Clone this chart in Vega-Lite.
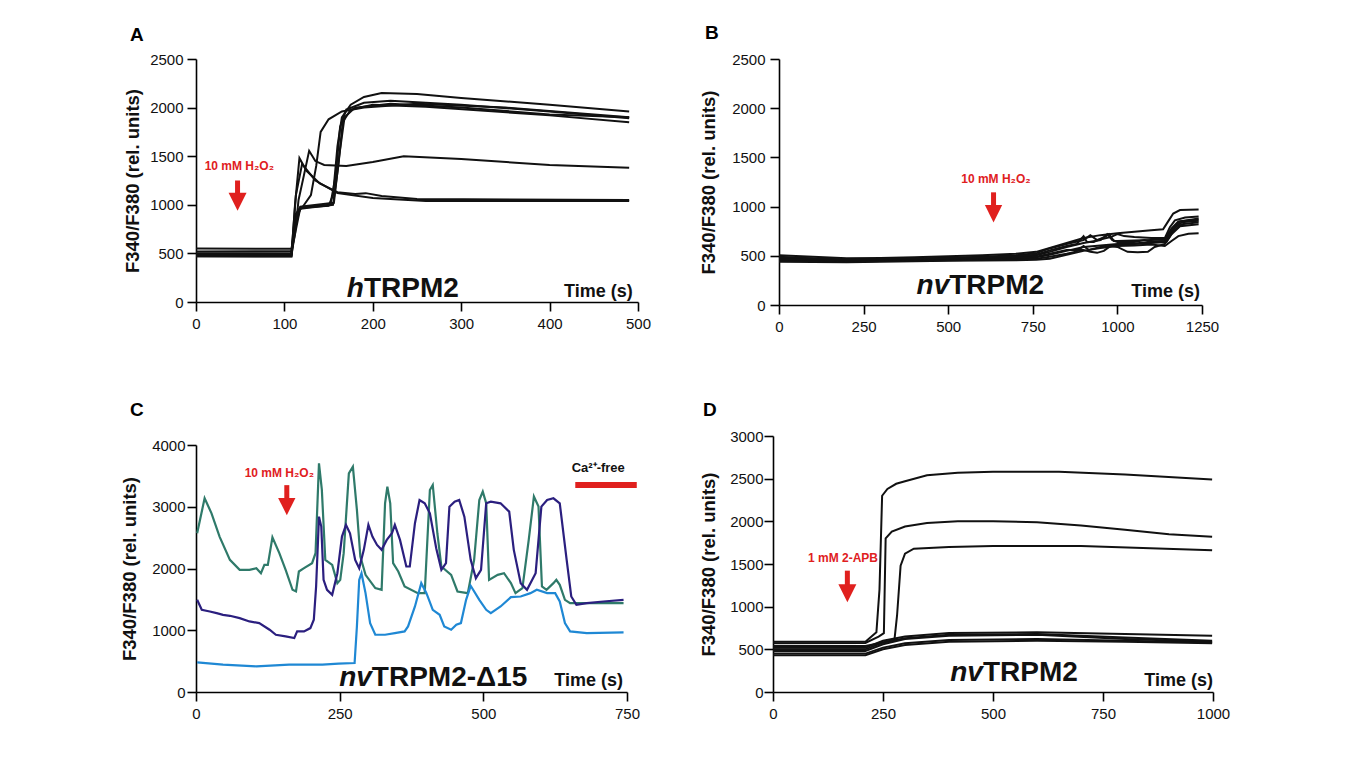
{
"$schema": "https://vega.github.io/schema/vega-lite/v6.json",
"background": "white",
"padding": {"left": 120, "top": 24, "right": 5, "bottom": 5},
"config": {
  "font": "Liberation Sans",
  "view": {"stroke": null},
  "axis": {"grid": false, "domainColor": "#000", "tickColor": "#000", "domainWidth": 1.6, "tickWidth": 1.6, "tickSize": 9, "labelPadding": 5, "labelFontSize": 15, "labelColor": "#111", "labelFont": "Liberation Sans", "labelFlush": false, "format": "d", "titleFont": "Liberation Sans", "titleFontSize": 18.5, "titleFontWeight": "bold", "titleColor": "#111", "titlePadding": 8},
  "title": {"fontSize": 19, "fontWeight": "bold", "color": "#000", "anchor": "start", "frame": "group"}
},
"datasets": {
  "A": [
    {"s":"a1","t":0,"v":520},{"s":"a1","t":108,"v":525},{"s":"a1","t":112,"v":700},{"s":"a1","t":118,"v":970},{"s":"a1","t":150,"v":990},{"s":"a1","t":155,"v":1100},{"s":"a1","t":160,"v":1600},{"s":"a1","t":165,"v":1900},{"s":"a1","t":175,"v":2030},{"s":"a1","t":190,"v":2110},{"s":"a1","t":210,"v":2150},{"s":"a1","t":250,"v":2140},{"s":"a1","t":300,"v":2100},{"s":"a1","t":400,"v":2030},{"s":"a1","t":490,"v":1960},
    {"s":"a2","t":0,"v":550},{"s":"a2","t":108,"v":548},{"s":"a2","t":113,"v":800},{"s":"a2","t":118,"v":970},{"s":"a2","t":152,"v":1000},{"s":"a2","t":158,"v":1300},{"s":"a2","t":163,"v":1800},{"s":"a2","t":170,"v":1980},{"s":"a2","t":190,"v":2050},{"s":"a2","t":220,"v":2070},{"s":"a2","t":300,"v":2030},{"s":"a2","t":400,"v":1960},{"s":"a2","t":490,"v":1890},
    {"s":"a3","t":0,"v":470},{"s":"a3","t":108,"v":468},{"s":"a3","t":113,"v":850},{"s":"a3","t":118,"v":960},{"s":"a3","t":155,"v":1000},{"s":"a3","t":161,"v":1400},{"s":"a3","t":166,"v":1850},{"s":"a3","t":175,"v":1980},{"s":"a3","t":200,"v":2030},{"s":"a3","t":260,"v":2010},{"s":"a3","t":400,"v":1920},{"s":"a3","t":490,"v":1850},
    {"s":"a4","t":0,"v":500},{"s":"a4","t":108,"v":500},{"s":"a4","t":113,"v":900},{"s":"a4","t":118,"v":980},{"s":"a4","t":156,"v":1020},{"s":"a4","t":162,"v":1500},{"s":"a4","t":168,"v":1900},{"s":"a4","t":180,"v":2000},{"s":"a4","t":220,"v":2040},{"s":"a4","t":300,"v":2000},{"s":"a4","t":400,"v":1930},{"s":"a4","t":490,"v":1900},
    {"s":"a5","t":0,"v":480},{"s":"a5","t":108,"v":480},{"s":"a5","t":112,"v":900},{"s":"a5","t":120,"v":970},{"s":"a5","t":130,"v":1100},{"s":"a5","t":136,"v":1400},{"s":"a5","t":141,"v":1750},{"s":"a5","t":150,"v":1880},{"s":"a5","t":165,"v":1960},{"s":"a5","t":190,"v":2000},{"s":"a5","t":250,"v":2040},{"s":"a5","t":350,"v":2000},{"s":"a5","t":490,"v":1900},
    {"s":"a6","t":0,"v":490},{"s":"a6","t":108,"v":490},{"s":"a6","t":112,"v":700},{"s":"a6","t":116,"v":1050},{"s":"a6","t":122,"v":1300},{"s":"a6","t":128,"v":1555},{"s":"a6","t":135,"v":1450},{"s":"a6","t":145,"v":1410},{"s":"a6","t":170,"v":1400},{"s":"a6","t":200,"v":1440},{"s":"a6","t":235,"v":1500},{"s":"a6","t":300,"v":1470},{"s":"a6","t":400,"v":1410},{"s":"a6","t":490,"v":1380},
    {"s":"a7","t":0,"v":470},{"s":"a7","t":108,"v":470},{"s":"a7","t":112,"v":1000},{"s":"a7","t":117,"v":1480},{"s":"a7","t":125,"v":1350},{"s":"a7","t":140,"v":1220},{"s":"a7","t":160,"v":1130},{"s":"a7","t":180,"v":1110},{"s":"a7","t":192,"v":1120},{"s":"a7","t":210,"v":1090},{"s":"a7","t":250,"v":1060},{"s":"a7","t":490,"v":1050},
    {"s":"a8","t":0,"v":500},{"s":"a8","t":108,"v":500},{"s":"a8","t":113,"v":1100},{"s":"a8","t":120,"v":1420},{"s":"a8","t":135,"v":1250},{"s":"a8","t":160,"v":1120},{"s":"a8","t":200,"v":1070},{"s":"a8","t":260,"v":1040},{"s":"a8","t":490,"v":1040}
  ],
  "B": [
    {"s":"b1","t":0,"v":505},{"s":"b1","t":100,"v":490},{"s":"b1","t":200,"v":475},{"s":"b1","t":300,"v":478},{"s":"b1","t":400,"v":485},{"s":"b1","t":500,"v":495},{"s":"b1","t":600,"v":505},{"s":"b1","t":700,"v":520},{"s":"b1","t":760,"v":540},{"s":"b1","t":800,"v":580},{"s":"b1","t":850,"v":630},{"s":"b1","t":900,"v":680},{"s":"b1","t":950,"v":710},{"s":"b1","t":1000,"v":730},{"s":"b1","t":1050,"v":745},{"s":"b1","t":1100,"v":760},{"s":"b1","t":1135,"v":770},{"s":"b1","t":1150,"v":850},{"s":"b1","t":1165,"v":930},{"s":"b1","t":1185,"v":965},{"s":"b1","t":1240,"v":970},
    {"s":"b2","t":0,"v":490},{"s":"b2","t":100,"v":470},{"s":"b2","t":200,"v":460},{"s":"b2","t":300,"v":465},{"s":"b2","t":400,"v":470},{"s":"b2","t":500,"v":480},{"s":"b2","t":600,"v":490},{"s":"b2","t":700,"v":505},{"s":"b2","t":760,"v":525},{"s":"b2","t":800,"v":575},{"s":"b2","t":850,"v":620},{"s":"b2","t":900,"v":660},{"s":"b2","t":920,"v":710},{"s":"b2","t":940,"v":660},{"s":"b2","t":980,"v":690},{"s":"b2","t":1000,"v":720},{"s":"b2","t":1020,"v":700},{"s":"b2","t":1050,"v":690},{"s":"b2","t":1100,"v":680},{"s":"b2","t":1140,"v":680},{"s":"b2","t":1155,"v":790},{"s":"b2","t":1170,"v":860},{"s":"b2","t":1200,"v":890},{"s":"b2","t":1240,"v":900},
    {"s":"b3","t":0,"v":475},{"s":"b3","t":100,"v":460},{"s":"b3","t":200,"v":452},{"s":"b3","t":300,"v":458},{"s":"b3","t":400,"v":462},{"s":"b3","t":500,"v":470},{"s":"b3","t":600,"v":478},{"s":"b3","t":700,"v":490},{"s":"b3","t":760,"v":505},{"s":"b3","t":800,"v":540},{"s":"b3","t":850,"v":590},{"s":"b3","t":900,"v":630},{"s":"b3","t":950,"v":660},{"s":"b3","t":975,"v":720},{"s":"b3","t":990,"v":650},{"s":"b3","t":1000,"v":650},{"s":"b3","t":1050,"v":655},{"s":"b3","t":1100,"v":660},{"s":"b3","t":1140,"v":665},{"s":"b3","t":1160,"v":780},{"s":"b3","t":1180,"v":850},{"s":"b3","t":1240,"v":870},
    {"s":"b4","t":0,"v":465},{"s":"b4","t":100,"v":455},{"s":"b4","t":200,"v":447},{"s":"b4","t":300,"v":452},{"s":"b4","t":400,"v":455},{"s":"b4","t":500,"v":462},{"s":"b4","t":600,"v":468},{"s":"b4","t":700,"v":475},{"s":"b4","t":760,"v":485},{"s":"b4","t":800,"v":510},{"s":"b4","t":850,"v":550},{"s":"b4","t":900,"v":590},{"s":"b4","t":950,"v":605},{"s":"b4","t":1000,"v":620},{"s":"b4","t":1050,"v":625},{"s":"b4","t":1100,"v":640},{"s":"b4","t":1145,"v":650},{"s":"b4","t":1165,"v":770},{"s":"b4","t":1190,"v":840},{"s":"b4","t":1240,"v":855},
    {"s":"b5","t":0,"v":455},{"s":"b5","t":100,"v":445},{"s":"b5","t":200,"v":440},{"s":"b5","t":300,"v":448},{"s":"b5","t":400,"v":450},{"s":"b5","t":500,"v":455},{"s":"b5","t":600,"v":460},{"s":"b5","t":700,"v":465},{"s":"b5","t":760,"v":470},{"s":"b5","t":800,"v":490},{"s":"b5","t":850,"v":520},{"s":"b5","t":880,"v":545},{"s":"b5","t":900,"v":600},{"s":"b5","t":915,"v":560},{"s":"b5","t":950,"v":590},{"s":"b5","t":1000,"v":610},{"s":"b5","t":1050,"v":620},{"s":"b5","t":1100,"v":630},{"s":"b5","t":1145,"v":640},{"s":"b5","t":1165,"v":750},{"s":"b5","t":1190,"v":820},{"s":"b5","t":1240,"v":840},
    {"s":"b6","t":0,"v":440},{"s":"b6","t":100,"v":438},{"s":"b6","t":200,"v":435},{"s":"b6","t":300,"v":440},{"s":"b6","t":400,"v":445},{"s":"b6","t":500,"v":450},{"s":"b6","t":600,"v":452},{"s":"b6","t":700,"v":455},{"s":"b6","t":760,"v":460},{"s":"b6","t":800,"v":470},{"s":"b6","t":850,"v":510},{"s":"b6","t":900,"v":550},{"s":"b6","t":950,"v":580},{"s":"b6","t":1000,"v":600},{"s":"b6","t":1050,"v":605},{"s":"b6","t":1100,"v":615},{"s":"b6","t":1140,"v":600},{"s":"b6","t":1160,"v":650},{"s":"b6","t":1180,"v":700},{"s":"b6","t":1210,"v":725},{"s":"b6","t":1240,"v":730},
    {"s":"b7","t":0,"v":470},{"s":"b7","t":100,"v":460},{"s":"b7","t":200,"v":455},{"s":"b7","t":300,"v":460},{"s":"b7","t":400,"v":465},{"s":"b7","t":500,"v":470},{"s":"b7","t":600,"v":478},{"s":"b7","t":700,"v":482},{"s":"b7","t":760,"v":490},{"s":"b7","t":800,"v":520},{"s":"b7","t":850,"v":560},{"s":"b7","t":900,"v":560},{"s":"b7","t":920,"v":540},{"s":"b7","t":940,"v":530},{"s":"b7","t":960,"v":550},{"s":"b7","t":980,"v":600},{"s":"b7","t":1000,"v":590},{"s":"b7","t":1030,"v":540},{"s":"b7","t":1060,"v":535},{"s":"b7","t":1090,"v":540},{"s":"b7","t":1110,"v":590},{"s":"b7","t":1140,"v":620},{"s":"b7","t":1160,"v":720},{"s":"b7","t":1185,"v":800},{"s":"b7","t":1240,"v":820},
    {"s":"b8","t":0,"v":485},{"s":"b8","t":100,"v":475},{"s":"b8","t":200,"v":462},{"s":"b8","t":300,"v":468},{"s":"b8","t":400,"v":472},{"s":"b8","t":500,"v":478},{"s":"b8","t":600,"v":485},{"s":"b8","t":700,"v":495},{"s":"b8","t":760,"v":510},{"s":"b8","t":800,"v":555},{"s":"b8","t":850,"v":600},{"s":"b8","t":880,"v":620},{"s":"b8","t":900,"v":700},{"s":"b8","t":910,"v":640},{"s":"b8","t":930,"v":640},{"s":"b8","t":960,"v":690},{"s":"b8","t":970,"v":720},{"s":"b8","t":985,"v":660},{"s":"b8","t":1000,"v":640},{"s":"b8","t":1050,"v":640},{"s":"b8","t":1080,"v":660},{"s":"b8","t":1100,"v":640},{"s":"b8","t":1140,"v":650},{"s":"b8","t":1160,"v":760},{"s":"b8","t":1185,"v":850},{"s":"b8","t":1240,"v":880}
  ],
  "C": [
    {"s":"teal","t":2,"v":2571},{"s":"teal","t":15,"v":3137},{"s":"teal","t":27,"v":2894},{"s":"teal","t":41,"v":2517},{"s":"teal","t":59,"v":2140},{"s":"teal","t":76,"v":1978},{"s":"teal","t":93,"v":1978},{"s":"teal","t":105,"v":2005},{"s":"teal","t":113,"v":1924},{"s":"teal","t":119,"v":2059},{"s":"teal","t":125,"v":2059},{"s":"teal","t":133,"v":2506},{"s":"teal","t":145,"v":2248},{"s":"teal","t":156,"v":1978},{"s":"teal","t":168,"v":1655},{"s":"teal","t":174,"v":1628},{"s":"teal","t":179,"v":1951},{"s":"teal","t":188,"v":2005},{"s":"teal","t":202,"v":2086},{"s":"teal","t":208,"v":2248},{"s":"teal","t":214,"v":3703},{"s":"teal","t":219,"v":3272},{"s":"teal","t":225,"v":2140},{"s":"teal","t":237,"v":2059},{"s":"teal","t":246,"v":1763},{"s":"teal","t":251,"v":1816},{"s":"teal","t":257,"v":2248},{"s":"teal","t":266,"v":3541},{"s":"teal","t":273,"v":3649},{"s":"teal","t":280,"v":2948},{"s":"teal","t":286,"v":2194},{"s":"teal","t":295,"v":1897},{"s":"teal","t":312,"v":1682},{"s":"teal","t":323,"v":1655},{"s":"teal","t":329,"v":3056},{"s":"teal","t":333,"v":3326},{"s":"teal","t":338,"v":3056},{"s":"teal","t":343,"v":2086},{"s":"teal","t":352,"v":1951},{"s":"teal","t":363,"v":1709},{"s":"teal","t":386,"v":1601},{"s":"teal","t":398,"v":1601},{"s":"teal","t":407,"v":3272},{"s":"teal","t":412,"v":3353},{"s":"teal","t":420,"v":2571},{"s":"teal","t":427,"v":2032},{"s":"teal","t":444,"v":1897},{"s":"teal","t":455,"v":1628},{"s":"teal","t":473,"v":1601},{"s":"teal","t":484,"v":2140},{"s":"teal","t":493,"v":3110},{"s":"teal","t":499,"v":3245},{"s":"teal","t":505,"v":3056},{"s":"teal","t":510,"v":1816},{"s":"teal","t":525,"v":1897},{"s":"teal","t":536,"v":1924},{"s":"teal","t":548,"v":1763},{"s":"teal","t":556,"v":1601},{"s":"teal","t":568,"v":1682},{"s":"teal","t":579,"v":2463},{"s":"teal","t":588,"v":3164},{"s":"teal","t":596,"v":3002},{"s":"teal","t":602,"v":1709},{"s":"teal","t":610,"v":1655},{"s":"teal","t":622,"v":1763},{"s":"teal","t":627,"v":1816},{"s":"teal","t":633,"v":1736},{"s":"teal","t":642,"v":1493},{"s":"teal","t":651,"v":1439},{"s":"teal","t":680,"v":1439},{"s":"teal","t":744,"v":1439},
    {"s":"navy","t":2,"v":1493},{"s":"navy","t":10,"v":1331},{"s":"navy","t":24,"v":1304},{"s":"navy","t":36,"v":1277},{"s":"navy","t":47,"v":1250},{"s":"navy","t":59,"v":1234},{"s":"navy","t":76,"v":1197},{"s":"navy","t":93,"v":1143},{"s":"navy","t":110,"v":1116},{"s":"navy","t":128,"v":1008},{"s":"navy","t":139,"v":927},{"s":"navy","t":156,"v":900},{"s":"navy","t":171,"v":873},{"s":"navy","t":176,"v":981},{"s":"navy","t":188,"v":981},{"s":"navy","t":199,"v":1035},{"s":"navy","t":205,"v":1170},{"s":"navy","t":209,"v":1709},{"s":"navy","t":214,"v":2840},{"s":"navy","t":218,"v":2679},{"s":"navy","t":222,"v":1816},{"s":"navy","t":228,"v":1655},{"s":"navy","t":237,"v":1574},{"s":"navy","t":246,"v":1924},{"s":"navy","t":254,"v":2517},{"s":"navy","t":261,"v":2706},{"s":"navy","t":268,"v":2571},{"s":"navy","t":277,"v":2140},{"s":"navy","t":284,"v":2005},{"s":"navy","t":292,"v":2302},{"s":"navy","t":300,"v":2706},{"s":"navy","t":307,"v":2517},{"s":"navy","t":315,"v":2382},{"s":"navy","t":323,"v":2302},{"s":"navy","t":332,"v":2463},{"s":"navy","t":341,"v":2571},{"s":"navy","t":346,"v":2706},{"s":"navy","t":355,"v":2463},{"s":"navy","t":366,"v":2032},{"s":"navy","t":372,"v":2032},{"s":"navy","t":381,"v":2733},{"s":"navy","t":389,"v":3110},{"s":"navy","t":398,"v":3056},{"s":"navy","t":407,"v":2894},{"s":"navy","t":418,"v":2329},{"s":"navy","t":427,"v":1978},{"s":"navy","t":435,"v":2086},{"s":"navy","t":441,"v":3002},{"s":"navy","t":450,"v":3083},{"s":"navy","t":458,"v":3110},{"s":"navy","t":467,"v":2840},{"s":"navy","t":478,"v":2140},{"s":"navy","t":487,"v":1843},{"s":"navy","t":496,"v":1978},{"s":"navy","t":505,"v":3056},{"s":"navy","t":513,"v":3083},{"s":"navy","t":530,"v":3056},{"s":"navy","t":545,"v":2921},{"s":"navy","t":553,"v":2302},{"s":"navy","t":565,"v":1763},{"s":"navy","t":576,"v":1655},{"s":"navy","t":591,"v":1924},{"s":"navy","t":601,"v":3002},{"s":"navy","t":611,"v":3110},{"s":"navy","t":622,"v":3137},{"s":"navy","t":633,"v":3056},{"s":"navy","t":645,"v":2140},{"s":"navy","t":653,"v":1547},{"s":"navy","t":662,"v":1412},{"s":"navy","t":680,"v":1439},{"s":"navy","t":709,"v":1466},{"s":"navy","t":744,"v":1493},
    {"s":"blue","t":2,"v":480},{"s":"blue","t":47,"v":442},{"s":"blue","t":105,"v":415},{"s":"blue","t":162,"v":442},{"s":"blue","t":220,"v":442},{"s":"blue","t":248,"v":458},{"s":"blue","t":276,"v":469},{"s":"blue","t":280,"v":1062},{"s":"blue","t":284,"v":1816},{"s":"blue","t":288,"v":1924},{"s":"blue","t":295,"v":1601},{"s":"blue","t":303,"v":1116},{"s":"blue","t":312,"v":927},{"s":"blue","t":329,"v":927},{"s":"blue","t":346,"v":954},{"s":"blue","t":363,"v":981},{"s":"blue","t":369,"v":1062},{"s":"blue","t":381,"v":1385},{"s":"blue","t":392,"v":1763},{"s":"blue","t":401,"v":1601},{"s":"blue","t":412,"v":1331},{"s":"blue","t":424,"v":1250},{"s":"blue","t":432,"v":1062},{"s":"blue","t":444,"v":1008},{"s":"blue","t":453,"v":1089},{"s":"blue","t":461,"v":1116},{"s":"blue","t":470,"v":1493},{"s":"blue","t":478,"v":1720},{"s":"blue","t":493,"v":1493},{"s":"blue","t":505,"v":1331},{"s":"blue","t":513,"v":1277},{"s":"blue","t":530,"v":1385},{"s":"blue","t":548,"v":1536},{"s":"blue","t":565,"v":1547},{"s":"blue","t":582,"v":1601},{"s":"blue","t":593,"v":1655},{"s":"blue","t":611,"v":1601},{"s":"blue","t":625,"v":1601},{"s":"blue","t":633,"v":1466},{"s":"blue","t":642,"v":1116},{"s":"blue","t":651,"v":981},{"s":"blue","t":680,"v":954},{"s":"blue","t":744,"v":965}
  ],
  "D": [
    {"s":"d1","t":0,"v":590},{"s":"d1","t":210,"v":588},{"s":"d1","t":235,"v":700},{"s":"d1","t":242,"v":1200},{"s":"d1","t":248,"v":2300},{"s":"d1","t":260,"v":2380},{"s":"d1","t":280,"v":2440},{"s":"d1","t":300,"v":2470},{"s":"d1","t":350,"v":2540},{"s":"d1","t":420,"v":2570},{"s":"d1","t":500,"v":2580},{"s":"d1","t":650,"v":2580},{"s":"d1","t":800,"v":2550},{"s":"d1","t":998,"v":2490},
    {"s":"d2","t":0,"v":570},{"s":"d2","t":210,"v":575},{"s":"d2","t":240,"v":650},{"s":"d2","t":252,"v":690},{"s":"d2","t":256,"v":1800},{"s":"d2","t":270,"v":1880},{"s":"d2","t":300,"v":1940},{"s":"d2","t":350,"v":1980},{"s":"d2","t":420,"v":2000},{"s":"d2","t":500,"v":2000},{"s":"d2","t":600,"v":1990},{"s":"d2","t":700,"v":1950},{"s":"d2","t":800,"v":1900},{"s":"d2","t":900,"v":1850},{"s":"d2","t":998,"v":1820},
    {"s":"d3","t":0,"v":540},{"s":"d3","t":210,"v":540},{"s":"d3","t":250,"v":580},{"s":"d3","t":276,"v":610},{"s":"d3","t":282,"v":900},{"s":"d3","t":290,"v":1480},{"s":"d3","t":300,"v":1620},{"s":"d3","t":320,"v":1680},{"s":"d3","t":400,"v":1700},{"s":"d3","t":500,"v":1710},{"s":"d3","t":700,"v":1710},{"s":"d3","t":998,"v":1660},
    {"s":"d4","t":0,"v":520},{"s":"d4","t":210,"v":520},{"s":"d4","t":250,"v":600},{"s":"d4","t":300,"v":650},{"s":"d4","t":400,"v":690},{"s":"d4","t":600,"v":700},{"s":"d4","t":800,"v":680},{"s":"d4","t":998,"v":660},
    {"s":"d5","t":0,"v":500},{"s":"d5","t":210,"v":500},{"s":"d5","t":250,"v":580},{"s":"d5","t":300,"v":630},{"s":"d5","t":400,"v":670},{"s":"d5","t":600,"v":680},{"s":"d5","t":800,"v":640},{"s":"d5","t":998,"v":600},
    {"s":"d6","t":0,"v":480},{"s":"d6","t":210,"v":480},{"s":"d6","t":250,"v":560},{"s":"d6","t":300,"v":620},{"s":"d6","t":400,"v":660},{"s":"d6","t":600,"v":670},{"s":"d6","t":800,"v":620},{"s":"d6","t":998,"v":590},
    {"s":"d7","t":0,"v":450},{"s":"d7","t":210,"v":450},{"s":"d7","t":250,"v":520},{"s":"d7","t":300,"v":570},{"s":"d7","t":400,"v":610},{"s":"d7","t":600,"v":620},{"s":"d7","t":800,"v":600},{"s":"d7","t":998,"v":580},
    {"s":"d8","t":0,"v":430},{"s":"d8","t":210,"v":430},{"s":"d8","t":250,"v":500},{"s":"d8","t":300,"v":550},{"s":"d8","t":400,"v":590},{"s":"d8","t":600,"v":600},{"s":"d8","t":800,"v":590},{"s":"d8","t":998,"v":570}
  ]
},
"columns": 2,
"align": "none",
"bounds": "full",
"spacing": {"row": 67, "column": 48},
"concat": [
  {
   "width": 442, "height": 243,
   "title": {"text": "A", "dx": -66, "offset": 7.5},
   "encoding": {
     "x": {"field": "t", "type": "quantitative", "scale": {"domain": [0, 500], "nice": false, "zero": false}, "axis": {"values": [0, 100, 200, 300, 400, 500], "title": null}},
     "y": {"field": "v", "type": "quantitative", "scale": {"domain": [0, 2500], "nice": false}, "axis": {"values": [0, 500, 1000, 1500, 2000, 2500], "title": "F340/F380 (rel. units)", "labelPadding": 4, "titlePadding": 7}}
   },
   "layer": [
     {"data": {"name": "A"}, "mark": {"type": "line", "color": "#111", "strokeWidth": 2}, "encoding": {"detail": {"field": "s"}}},
     {"data": {"values": [{"t": 47, "v": 1250, "v2": 1031}]}, "mark": {"type": "rule", "color": "#e0201e", "strokeWidth": 5}, "encoding": {"y2": {"field": "v2"}}},
     {"data": {"values": [{"t": 47, "v": 1031}]}, "mark": {"type": "point", "shape": "M-1,-1L1,-1L0,1Z", "size": 324, "filled": true, "color": "#e0201e", "opacity": 1, "strokeWidth": 0}},
     {"data": {"values": [{"t": 49, "v": 1354, "label": "10 mM H₂O₂"}]}, "mark": {"type": "text", "color": "#e0201e", "fontSize": 12, "fontWeight": "bold", "align": "center", "baseline": "alphabetic"}, "encoding": {"text": {"field": "label"}}},
     {"data": {"values": [{"t": 190, "v": 52, "label": "h"}]}, "mark": {"type": "text", "color": "#111", "fontSize": 28, "fontWeight": "bold", "fontStyle": "italic", "align": "right", "baseline": "alphabetic"}, "encoding": {"text": {"field": "label"}}},
     {"data": {"values": [{"t": 190, "v": 52, "label": "TRPM2"}]}, "mark": {"type": "text", "color": "#111", "fontSize": 28, "fontWeight": "bold", "align": "left", "baseline": "alphabetic"}, "encoding": {"text": {"field": "label"}}},
     {"data": {"values": [{"t": 494, "v": 52, "label": "Time (s)"}]}, "mark": {"type": "text", "color": "#111", "fontSize": 18, "fontWeight": "bold", "align": "right", "baseline": "alphabetic"}, "encoding": {"text": {"field": "label"}}}
   ]
  },
  {
   "width": 423, "height": 246,
   "title": {"text": "B", "dx": -74, "offset": 9},
   "encoding": {
     "x": {"field": "t", "type": "quantitative", "scale": {"domain": [0, 1250], "nice": false, "zero": false}, "axis": {"values": [0, 250, 500, 750, 1000, 1250], "title": null}},
     "y": {"field": "v", "type": "quantitative", "scale": {"domain": [0, 2500], "nice": false}, "axis": {"values": [0, 500, 1000, 1500, 2000, 2500], "title": "F340/F380 (rel. units)", "labelPadding": 5, "titlePadding": 13}}
   },
   "layer": [
     {"data": {"name": "B"}, "mark": {"type": "line", "color": "#111", "strokeWidth": 2}, "encoding": {"detail": {"field": "s"}}},
     {"data": {"values": [{"t": 634, "v": 1145, "v2": 927}]}, "mark": {"type": "rule", "color": "#e0201e", "strokeWidth": 5}, "encoding": {"y2": {"field": "v2"}}},
     {"data": {"values": [{"t": 634, "v": 927}]}, "mark": {"type": "point", "shape": "M-1,-1L1,-1L0,1Z", "size": 300, "filled": true, "color": "#e0201e", "opacity": 1, "strokeWidth": 0}},
     {"data": {"values": [{"t": 641, "v": 1235, "label": "10 mM H₂O₂"}]}, "mark": {"type": "text", "color": "#e0201e", "fontSize": 12, "fontWeight": "bold", "align": "center", "baseline": "alphabetic"}, "encoding": {"text": {"field": "label"}}},
     {"data": {"values": [{"t": 503, "v": 107, "label": "nv"}]}, "mark": {"type": "text", "color": "#111", "fontSize": 28, "fontWeight": "bold", "fontStyle": "italic", "align": "right", "baseline": "alphabetic"}, "encoding": {"text": {"field": "label"}}},
     {"data": {"values": [{"t": 503, "v": 107, "label": "TRPM2"}]}, "mark": {"type": "text", "color": "#111", "fontSize": 28, "fontWeight": "bold", "align": "left", "baseline": "alphabetic"}, "encoding": {"text": {"field": "label"}}},
     {"data": {"values": [{"t": 1244, "v": 80, "label": "Time (s)"}]}, "mark": {"type": "text", "color": "#111", "fontSize": 18, "fontWeight": "bold", "align": "right", "baseline": "alphabetic"}, "encoding": {"text": {"field": "label"}}}
   ]
  },
  {
   "width": 431, "height": 247,
   "title": {"text": "C", "dx": -66, "offset": 18},
   "encoding": {
     "x": {"field": "t", "type": "quantitative", "scale": {"domain": [0, 750], "nice": false, "zero": false}, "axis": {"values": [0, 250, 500, 750], "title": null}},
     "y": {"field": "v", "type": "quantitative", "scale": {"domain": [0, 4000], "nice": false}, "axis": {"values": [0, 1000, 2000, 3000, 4000], "title": "F340/F380 (rel. units)", "labelPadding": 2, "titlePadding": 12}}
   },
   "layer": [
     {"data": {"name": "C"}, "mark": {"type": "line", "strokeWidth": 2.2}, "encoding": {"color": {"field": "s", "type": "nominal", "scale": {"domain": ["teal", "navy", "blue"], "range": ["#2f7a6a", "#2b1f7f", "#1f88d4"]}, "legend": null}}},
     {"data": {"values": [{"t": 660, "v": 3351, "t2": 767}]}, "mark": {"type": "rule", "color": "#e0201e", "strokeWidth": 6}, "encoding": {"x2": {"field": "t2"}}},
     {"data": {"values": [{"t": 700, "v": 3560, "label": "Ca²⁺-free"}]}, "mark": {"type": "text", "color": "#111", "fontSize": 13, "fontWeight": "bold", "align": "center", "baseline": "alphabetic"}, "encoding": {"text": {"field": "label"}}},
     {"data": {"values": [{"t": 158, "v": 3350, "v2": 3000}]}, "mark": {"type": "rule", "color": "#e0201e", "strokeWidth": 5}, "encoding": {"y2": {"field": "v2"}}},
     {"data": {"values": [{"t": 158, "v": 3003}]}, "mark": {"type": "point", "shape": "M-1,-1L1,-1L0,1Z", "size": 300, "filled": true, "color": "#e0201e", "opacity": 1, "strokeWidth": 0}},
     {"data": {"values": [{"t": 145, "v": 3481, "label": "10 mM H₂O₂"}]}, "mark": {"type": "text", "color": "#e0201e", "fontSize": 12, "fontWeight": "bold", "align": "center", "baseline": "alphabetic"}, "encoding": {"text": {"field": "label"}}},
     {"data": {"values": [{"t": 306, "v": 97, "label": "nv"}]}, "mark": {"type": "text", "color": "#111", "fontSize": 28, "fontWeight": "bold", "fontStyle": "italic", "align": "right", "baseline": "alphabetic"}, "encoding": {"text": {"field": "label"}}},
     {"data": {"values": [{"t": 306, "v": 97, "label": "TRPM2-Δ15"}]}, "mark": {"type": "text", "color": "#111", "fontSize": 28, "fontWeight": "bold", "align": "left", "baseline": "alphabetic"}, "encoding": {"text": {"field": "label"}}},
     {"data": {"values": [{"t": 743, "v": 97, "label": "Time (s)"}]}, "mark": {"type": "text", "color": "#111", "fontSize": 18, "fontWeight": "bold", "align": "right", "baseline": "alphabetic"}, "encoding": {"text": {"field": "label"}}}
   ]
  },
  {
   "width": 440, "height": 256,
   "title": {"text": "D", "dx": -70, "offset": 9},
   "encoding": {
     "x": {"field": "t", "type": "quantitative", "scale": {"domain": [0, 1000], "nice": false, "zero": false}, "axis": {"values": [0, 250, 500, 750, 1000], "title": null}},
     "y": {"field": "v", "type": "quantitative", "scale": {"domain": [0, 3000], "nice": false}, "axis": {"values": [0, 500, 1000, 1500, 2000, 2500, 3000], "title": "F340/F380 (rel. units)", "labelPadding": 1, "titlePadding": 11}}
   },
   "layer": [
     {"data": {"name": "D"}, "mark": {"type": "line", "color": "#111", "strokeWidth": 2}, "encoding": {"detail": {"field": "s"}}},
     {"data": {"values": [{"t": 169, "v": 1422, "v2": 1158}]}, "mark": {"type": "rule", "color": "#e0201e", "strokeWidth": 5}, "encoding": {"y2": {"field": "v2"}}},
     {"data": {"values": [{"t": 169, "v": 1158}]}, "mark": {"type": "point", "shape": "M-1,-1L1,-1L0,1Z", "size": 324, "filled": true, "color": "#e0201e", "opacity": 1, "strokeWidth": 0}},
     {"data": {"values": [{"t": 159, "v": 1524, "label": "1 mM 2-APB"}]}, "mark": {"type": "text", "color": "#e0201e", "fontSize": 12, "fontWeight": "bold", "align": "center", "baseline": "alphabetic"}, "encoding": {"text": {"field": "label"}}},
     {"data": {"values": [{"t": 477, "v": 129, "label": "nv"}]}, "mark": {"type": "text", "color": "#111", "fontSize": 28, "fontWeight": "bold", "fontStyle": "italic", "align": "right", "baseline": "alphabetic"}, "encoding": {"text": {"field": "label"}}},
     {"data": {"values": [{"t": 477, "v": 129, "label": "TRPM2"}]}, "mark": {"type": "text", "color": "#111", "fontSize": 28, "fontWeight": "bold", "align": "left", "baseline": "alphabetic"}, "encoding": {"text": {"field": "label"}}},
     {"data": {"values": [{"t": 1000, "v": 70, "label": "Time (s)"}]}, "mark": {"type": "text", "color": "#111", "fontSize": 18, "fontWeight": "bold", "align": "right", "baseline": "alphabetic"}, "encoding": {"text": {"field": "label"}}}
   ]
  }
]
}
